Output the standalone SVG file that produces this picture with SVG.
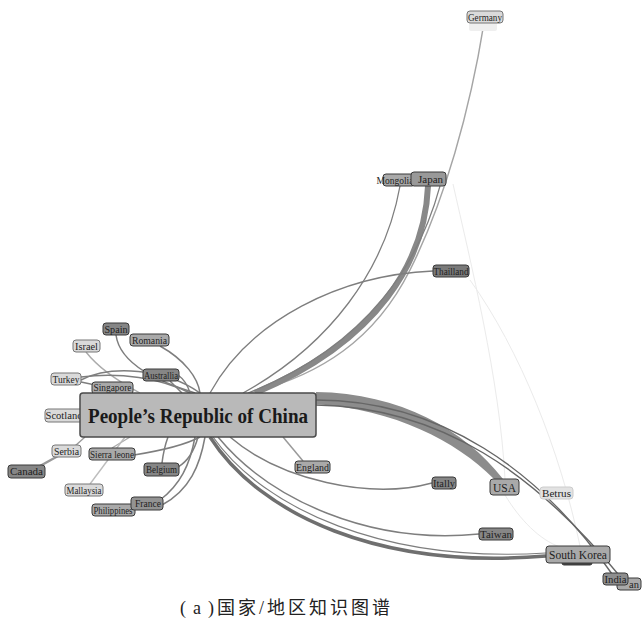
<svg xmlns="http://www.w3.org/2000/svg" width="642" height="621" viewBox="0 0 642 621">
<style>
.e{fill:none;stroke:#7e7e7e;stroke-width:1.5}
.el{fill:none;stroke:#ababab;stroke-width:1.4}
.ef{fill:none;stroke:#ebebeb;stroke-width:1}
.n rect{stroke:#3a3a3a;stroke-width:1}
.n text{font-family:"Liberation Serif",serif;font-size:10.5px;fill:#1e1e1e;text-anchor:middle}
.d rect{fill:#868686}
.m rect{fill:#a9a9a9}
.l rect{fill:#dadada;stroke:#777}
</style>
<rect width="642" height="621" fill="#fff"/>
<g id="edges">
<path class="ef" d="M453 184 C470 260 500 380 505 479"/>
<path class="ef" d="M470 280 C520 350 560 450 580 546"/>
<path class="ef" d="M505 495 C520 520 540 540 560 547"/>
<path class="e" style="stroke:#a5a5a5" d="M484 23 C470 110 445 200 410 270 S320 375 250 393"/>
<path class="e" style="stroke:#888;stroke-width:6" d="M428 186 C425 260 380 340 255 393"/>
<path class="e" style="stroke-width:1.2" d="M440 186 C420 260 370 345 248 393"/>
<path class="e" style="stroke-width:1.3" d="M400 186 C385 270 330 345 243 393"/>
<path class="e" style="stroke-width:1.3" d="M433 271 C340 275 250 320 210 393"/>
<path d="M316 392 C400 393 465 430 503 479 L494 479 C455 440 395 410 316 404 Z" fill="#8c8c8c"/>
<path class="e" style="stroke:#666;stroke-width:1.4" d="M316 400 C440 400 540 470 612 574"/>
<path class="e" style="stroke:#666;stroke-width:1.4" d="M316 405 C440 407 535 472 623 580"/>
<path class="e" d="M230 437 C280 480 370 500 432 483"/>
<path class="e" style="stroke:#9a9a9a" d="M283 437 L303 461"/>
<path class="e" d="M218 437 C270 500 370 545 479 534"/>
<path class="e" style="stroke:#6f6f6f;stroke-width:3.5" d="M210 437 C260 515 380 570 546 556"/>
<path class="e" style="stroke-width:1.2" d="M213 437 C265 510 385 563 546 553"/>
<path class="e" d="M116 335 C120 365 160 382 195 393"/>
<path class="e" d="M160 346 C185 360 198 378 200 393"/>
<path class="el" d="M86 352 C100 370 125 385 140 393"/>
<path class="e" d="M170 381 L182 393"/>
<path class="e" d="M178 375 C185 380 188 386 190 393"/>
<path class="e" d="M81 377 C120 372 160 378 190 393"/>
<path class="e" d="M81 380 C110 365 165 368 200 393"/>
<path class="e" d="M81 382 L100 386"/>
<path class="el" style="stroke:#9a9a9a" d="M75 446 L85 437"/>
<path class="el" style="stroke:#999;stroke-width:2.5" d="M40 466 L58 456"/>
<path class="e" d="M134 455 C165 450 185 445 200 437"/>
<path class="el" d="M112 448 L130 437"/>
<path class="el" style="stroke:#bdbdbd" d="M90 484 L125 437"/>
<path class="e" d="M162 463 C163 455 165 445 168 437"/>
<path class="e" d="M178 467 C190 460 195 448 198 437"/>
<path class="e" d="M160 500 C180 485 190 465 195 437"/>
<path class="e" d="M162 505 C190 490 200 465 205 437"/>
</g>
<g id="n-germany" class="n l"><rect x="469" y="22" width="28" height="9" rx="2" style="fill:#efefef;stroke:none"/><rect x="467" y="11" width="36" height="12" rx="3"/><text x="485" y="20.5" textLength="34" lengthAdjust="spacingAndGlyphs">Germany</text></g>
<g id="n-mongolia" class="n m"><rect x="383" y="174" width="32" height="12" rx="3"/><text x="395" y="183.5" textLength="37" lengthAdjust="spacingAndGlyphs">Mongolia</text></g>
<g id="n-japan" class="n m"><rect x="411" y="172" width="35" height="14" rx="3" style="fill:#999"/><text x="430.5" y="183" textLength="25" lengthAdjust="spacingAndGlyphs">Japan</text></g>
<g id="n-thailland" class="n d"><rect x="433" y="265" width="36" height="12" rx="3" style="fill:#7a7a7a"/><text x="451" y="274.5" textLength="35" lengthAdjust="spacingAndGlyphs">Thailland</text></g>
<g id="n-spain" class="n d"><rect x="103" y="323" width="26" height="12" rx="3"/><text x="116" y="332.5" textLength="23" lengthAdjust="spacingAndGlyphs">Spain</text></g>
<g id="n-romania" class="n m"><rect x="130" y="334" width="39" height="12" rx="3"/><text x="149.5" y="343.5" textLength="35" lengthAdjust="spacingAndGlyphs">Romania</text></g>
<g id="n-israel" class="n l"><rect x="73" y="340" width="27" height="12" rx="3"/><text x="86.5" y="349.5" textLength="23" lengthAdjust="spacingAndGlyphs">Israel</text></g>
<g id="n-australlia" class="n d"><rect x="143" y="369" width="36" height="12" rx="3"/><text x="161" y="378.5" textLength="34" lengthAdjust="spacingAndGlyphs">Australlia</text></g>
<g id="n-turkey" class="n l"><rect x="51" y="373" width="30" height="12" rx="3"/><text x="66" y="382.5" textLength="27" lengthAdjust="spacingAndGlyphs">Turkey</text></g>
<g id="n-singapore" class="n m"><rect x="92" y="382" width="41" height="12" rx="3"/><text x="112.5" y="391" textLength="38" lengthAdjust="spacingAndGlyphs">Singapore</text></g>
<g id="n-scotland" class="n l"><rect x="45" y="409" width="38" height="13" rx="3"/><text x="64" y="419" textLength="37" lengthAdjust="spacingAndGlyphs">Scotland</text></g>
<g id="n-china"><rect x="80" y="393" width="236" height="44" rx="3" fill="#b9b9b9" stroke="#4a4a4a" stroke-width="1.5"/><text x="198" y="423" text-anchor="middle" textLength="220" lengthAdjust="spacingAndGlyphs" font-family="Liberation Serif, serif" font-weight="bold" font-size="20" fill="#1a1a1a">People’s Republic of China</text></g>
<g id="n-serbia" class="n l"><rect x="52" y="445" width="29" height="12" rx="3"/><text x="66.5" y="454.5" textLength="25" lengthAdjust="spacingAndGlyphs">Serbia</text></g>
<g id="n-sierraleone" class="n m"><rect x="89" y="448" width="46" height="12" rx="3"/><text x="112" y="457.5" textLength="44" lengthAdjust="spacingAndGlyphs">Sierra leone</text></g>
<g id="n-canada" class="n d"><rect x="8" y="465" width="37" height="13" rx="3"/><text x="26.5" y="475" textLength="33" lengthAdjust="spacingAndGlyphs">Canada</text></g>
<g id="n-belgium" class="n d"><rect x="144" y="463" width="35" height="13" rx="3"/><text x="161.5" y="473" textLength="31" lengthAdjust="spacingAndGlyphs">Belgium</text></g>
<g id="n-mallaysia" class="n l"><rect x="65" y="484" width="38" height="12" rx="3"/><text x="84" y="493.5" textLength="35" lengthAdjust="spacingAndGlyphs">Mallaysia</text></g>
<g id="n-philippines" class="n m"><rect x="92" y="504" width="43" height="12" rx="3"/><text x="113" y="513.5" textLength="39" lengthAdjust="spacingAndGlyphs">Philippines</text></g>
<g id="n-france" class="n d"><rect x="131" y="497" width="32" height="13" rx="3" style="fill:#939393"/><text x="148" y="507" textLength="26" lengthAdjust="spacingAndGlyphs">France</text></g>
<g id="n-england" class="n m"><rect x="295" y="461" width="35" height="12" rx="3"/><text x="312.5" y="470.5" textLength="33" lengthAdjust="spacingAndGlyphs">England</text></g>
<g id="n-itally" class="n d"><rect x="432" y="477" width="24" height="12" rx="3"/><text x="444" y="486.5" textLength="22" lengthAdjust="spacingAndGlyphs">Itally</text></g>
<g id="n-usa" class="n m"><rect x="490" y="479" width="29" height="16" rx="3"/><text x="504.5" y="491.5" style="font-size:12px" textLength="23" lengthAdjust="spacingAndGlyphs">USA</text></g>
<g id="n-betrus" class="n l"><rect x="540" y="487" width="33" height="12" rx="3" style="fill:#e2e2e2;stroke:#ccc"/><text x="556.5" y="496.5" textLength="29" lengthAdjust="spacingAndGlyphs">Betrus</text></g>
<g id="n-taiwan" class="n d"><rect x="479" y="528" width="34" height="12" rx="3"/><text x="496" y="537.5" textLength="32" lengthAdjust="spacingAndGlyphs">Taiwan</text></g>
<g id="n-southkorea" class="n m"><rect x="562" y="559" width="30" height="6" rx="2" style="fill:#444"/><rect x="546" y="546" width="64" height="17" rx="3"/><text x="578" y="559" style="font-size:12px" textLength="58" lengthAdjust="spacingAndGlyphs">South Korea</text></g>
<g id="n-an" class="n m"><rect x="617" y="578" width="24" height="12" rx="3"/><text x="634" y="587.5">an</text></g>
<g id="n-india" class="n d"><rect x="603" y="573" width="25" height="12" rx="3" style="fill:#8e8e8e"/><text x="615.5" y="582.5" textLength="22" lengthAdjust="spacingAndGlyphs">India</text></g>
<text y="614" font-family="Liberation Serif, Noto Sans CJK SC, serif" font-size="18" fill="#222"><tspan x="180" textLength="34" lengthAdjust="spacing">(a)</tspan><tspan x="217" textLength="173" lengthAdjust="spacing">国家/地区知识图谱</tspan></text>
</svg>
